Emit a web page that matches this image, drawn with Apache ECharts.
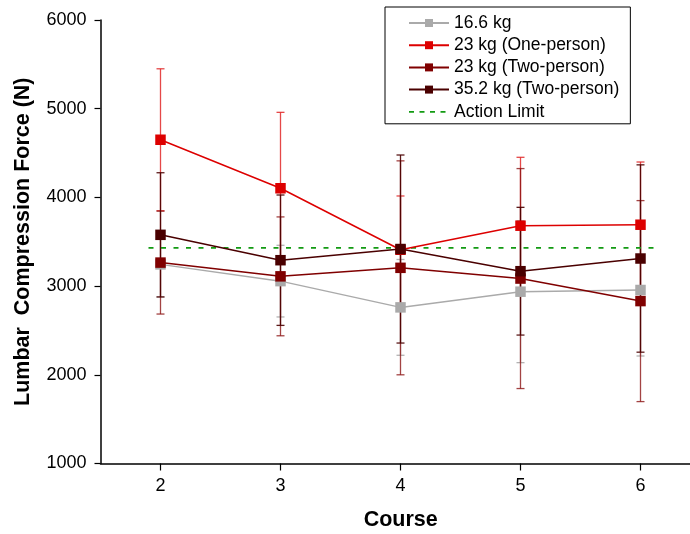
<!DOCTYPE html>
<html>
<head>
<meta charset="utf-8">
<script src="https://cdn.jsdelivr.net/npm/echarts@6/dist/echarts.min.js"></script>
<style>html,body{margin:0;padding:0;background:#fff}#c{width:690px;height:534px}</style>
</head>
<body>
<div id="c"></div>
<script>
var courses = [2, 3, 4, 5, 6];
var yTicks = [1000, 2000, 3000, 4000, 5000, 6000];
var w166 = [3245, 3056, 2760, 2937, 2956];
var w166Err = [368, 404, 540, 800, 744];
var w23One = [4650, 4103, 3410, 3681, 3692];
var w23OneErr = [800, 856, 606, 771, 707];
var w23Two = [3265, 3110, 3206, 3085, 2831];
var w23TwoErr = [580, 670, 1206, 1240, 1133];
var w352 = [3578, 3292, 3418, 3168, 3311];
var w352Err = [700, 735, 1060, 720, 1056];
var actionLimit = 3430;
var actionLimitX = [1.9, 6.13];

var names = ['16.6 kg', '23 kg (One-person)', '23 kg (Two-person)', '35.2 kg (Two-person)'];
var means = [w166, w23One, w23Two, w352];
var errs = [w166Err, w23OneErr, w23TwoErr, w352Err];
var colors = ['#aaaaaa', '#dd0000', '#800000', '#4a0000'];
var barColors = ['rgba(170,170,170,0.9)', 'rgba(225,40,40,0.85)', 'rgba(140,20,20,0.8)', 'rgba(74,0,0,0.9)'];
var limitColor = '#129a12';

var chart = echarts.init(document.getElementById('c'));
var series = [];
means.forEach(function (m, i) {
  series.push({
    type: 'custom',
    name: names[i] + ' err',
    z: 1,
    silent: true,
    data: m.map(function (v, k) { return [courses[k], v - errs[i][k], v + errs[i][k]]; }),
    renderItem: function (params, api) {
      var lo = api.coord([api.value(0), api.value(1)]);
      var hi = api.coord([api.value(0), api.value(2)]);
      var hw = 4;
      var st = { stroke: barColors[i], lineWidth: 1.3 };
      return {
        type: 'group',
        children: [
          { type: 'line', shape: { x1: lo[0], y1: lo[1], x2: hi[0], y2: hi[1] }, style: st },
          { type: 'line', shape: { x1: lo[0] - hw, y1: lo[1], x2: lo[0] + hw, y2: lo[1] }, style: st },
          { type: 'line', shape: { x1: hi[0] - hw, y1: hi[1], x2: hi[0] + hw, y2: hi[1] }, style: st }
        ]
      };
    }
  });
});
means.forEach(function (m, i) {
  series.push({
    type: 'line',
    name: names[i],
    z: 3 + i,
    data: m.map(function (v, k) { return [courses[k], v]; }),
    symbol: 'rect',
    symbolSize: 10.5,
    showSymbol: true,
    itemStyle: { color: colors[i] },
    lineStyle: { color: colors[i], width: 1.5 },
    emphasis: { disabled: true },
    animation: false
  });
});
series.push({
  type: 'line',
  name: 'Action Limit',
  z: 2,
  data: actionLimitX.map(function (x) { return [x, actionLimit]; }),
  symbol: 'none',
  itemStyle: { color: limitColor },
  lineStyle: { color: limitColor, width: 1.8, type: [5, 7.5] },
  animation: false
});

var xMin = 1.5, xMax = 1.5 + 589.5 / 120;

chart.setOption({
  animation: false,
  backgroundColor: '#fff',
  textStyle: { fontFamily: 'Liberation Sans, Arial, sans-serif', color: '#000' },
  grid: { left: 100.5, top: 20, right: 0, bottom: 70.5, containLabel: false, outerBoundsMode: 'none' },
  legend: {
    orient: 'vertical',
    left: 385, top: 7,
    padding: [7, 11, 3, 23],
    borderColor: '#000', borderWidth: 1,
    itemWidth: 40, itemHeight: 10, itemGap: 4.2,
    textStyle: { fontSize: 17.5, color: '#000', fontFamily: 'Liberation Sans, Arial, sans-serif' },
    data: names.concat([{ name: 'Action Limit', itemStyle: { opacity: 0 }, lineStyle: { color: limitColor, width: 1.8, type: [5, 5.5] } }])
  },
  xAxis: {
    type: 'value',
    min: xMin, max: xMax,
    name: 'Course',
    nameLocation: 'middle',
    nameGap: 45.5,
    nameTextStyle: { fontSize: 21.5, fontWeight: 'bold', color: '#000', padding: [0, 0, 0, 11] },
    axisLine: { lineStyle: { color: '#000', width: 1.5 } },
    axisTick: { show: true, length: 7, customValues: courses, lineStyle: { color: '#000', width: 1.2 } },
    axisLabel: { fontSize: 18, color: '#000', margin: 14, customValues: courses, showMinLabel: true, showMaxLabel: true },
    splitLine: { show: false }
  },
  yAxis: {
    type: 'value',
    min: yTicks[0], max: yTicks[yTicks.length - 1], interval: 1000,
    name: 'Lumbar  Compression Force (N)',
    nameLocation: 'middle',
    nameGap: 66,
    nameTextStyle: { fontSize: 21.5, fontWeight: 'bold', color: '#000' },
    axisLine: { show: true, lineStyle: { color: '#000', width: 1.5 } },
    axisTick: { show: true, length: 6, lineStyle: { color: '#000', width: 1.2 } },
    axisLabel: { fontSize: 18, color: '#000', margin: 14, formatter: function (v) { return String(v); } },
    splitLine: { show: false }
  },
  series: series
});
</script>
</body>
</html>
